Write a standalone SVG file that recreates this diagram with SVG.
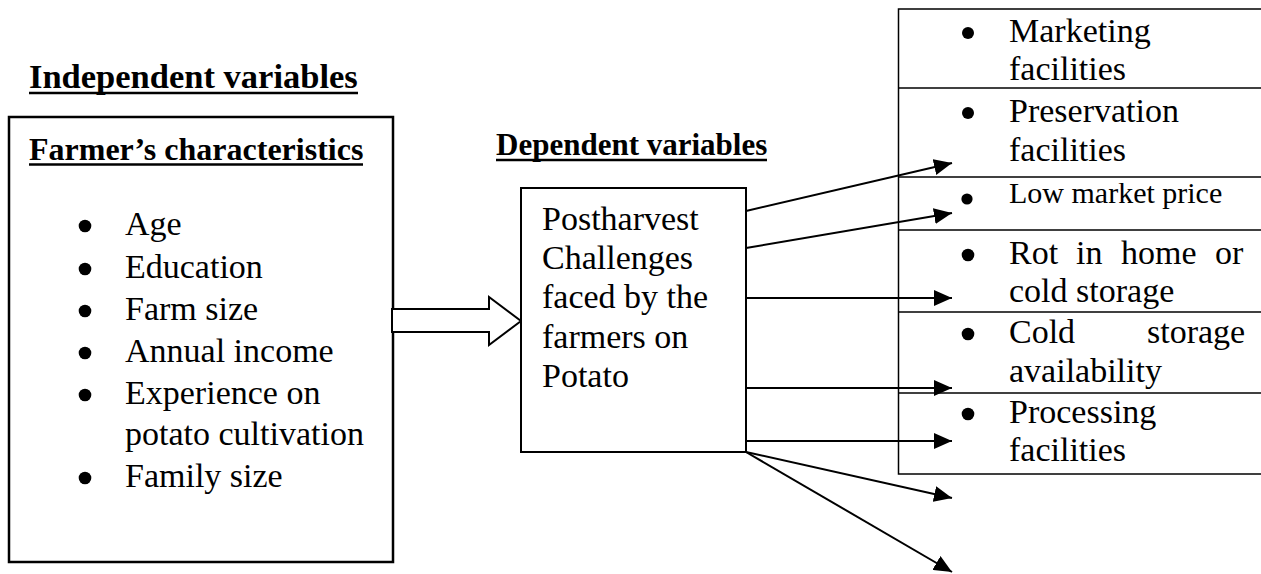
<svg xmlns="http://www.w3.org/2000/svg" width="1261" height="574" viewBox="0 0 1261 574">
<style>
text{font-family:"Liberation Serif","Times New Roman",Times,serif;fill:#000}
.h{font-weight:bold}
.t{font-size:34px}
.box{fill:#fff;stroke:#000}
.ul{stroke:#000;stroke-width:2.5}
.cell{fill:none;stroke:#000;stroke-width:1.5}
.conn line{stroke:#000;stroke-width:2;marker-end:url(#ah)}
</style>
<defs>
<marker id="ah" markerUnits="userSpaceOnUse" markerWidth="18" markerHeight="16" refX="18" refY="8" orient="auto">
<path d="M0,0 L18,8 L0,16 Z" fill="#000"/>
</marker>
</defs>
<rect width="1261" height="574" fill="#fff"/>

<g id="independent-title">
<text class="h" x="29" y="88" font-size="34.5">Independent variables</text>
<line class="ul" x1="29" y1="93" x2="358" y2="93"/>
</g>

<g id="farmer-characteristics">
<rect class="box" x="9" y="117" width="384" height="445" stroke-width="2.5"/>
<text class="h" x="29" y="160" font-size="32">Farmer’s characteristics</text>
<line class="ul" x1="29" y1="164.5" x2="363" y2="164.5"/>
<g>
<circle cx="85" cy="226" r="6.3"/><text class="t" x="125" y="235">Age</text>
<circle cx="85" cy="269" r="6.3"/><text class="t" x="125" y="278">Education</text>
<circle cx="85" cy="311" r="6.3"/><text class="t" x="125" y="320">Farm size</text>
<circle cx="85" cy="353" r="6.3"/><text class="t" x="125" y="362">Annual income</text>
<circle cx="85" cy="395" r="6.3"/><text class="t" x="125" y="404">Experience on</text>
<text class="t" x="125" y="445">potato cultivation</text>
<circle cx="85" cy="478" r="6.3"/><text class="t" x="125" y="487">Family size</text>
</g>
</g>

<g id="block-arrow">
<polygon points="392,309 489,309 489,297 521,321 489,345 489,332 392,332" fill="#fff" stroke="#000" stroke-width="2"/>
</g>

<g id="dependent-title">
<text class="h" x="496" y="155" font-size="31">Dependent variables</text>
<line class="ul" x1="496" y1="160" x2="767" y2="160"/>
</g>

<g id="postharvest-challenges">
<rect class="box" x="521" y="188" width="225" height="264" stroke-width="2"/>
<text class="t" x="542" y="230">Postharvest</text>
<text class="t" x="542" y="269">Challenges</text>
<text class="t" x="542" y="308">faced by the</text>
<text class="t" x="542" y="348">farmers on</text>
<text class="t" x="542" y="387">Potato</text>
</g>

<g id="challenge-table">
<rect class="cell" x="898.5" y="9" width="400" height="465"/>
<line class="cell" x1="898.5" y1="88" x2="1261" y2="88"/>
<line class="cell" x1="898.5" y1="177" x2="1261" y2="177"/>
<line class="cell" x1="898.5" y1="230" x2="1261" y2="230"/>
<line class="cell" x1="898.5" y1="312" x2="1261" y2="312"/>
<line class="cell" x1="898.5" y1="393" x2="1261" y2="393"/>
</g>

<g id="marketing-facilities">
<circle cx="968" cy="33" r="6"/>
<text class="t" x="1009" y="42">Marketing</text>
<text class="t" x="1009" y="80">facilities</text>
</g>
<g id="preservation-facilities">
<circle cx="968" cy="113" r="6"/>
<text class="t" x="1009" y="122">Preservation</text>
<text class="t" x="1009" y="161">facilities</text>
</g>
<g id="low-market-price">
<circle cx="967" cy="199" r="5.6"/>
<text x="1009" y="203" font-size="30">Low market price</text>
</g>
<g id="rot-storage">
<circle cx="968" cy="255" r="6.3"/>
<text class="t" y="264"><tspan x="1009">Rot</tspan><tspan x="1076">in</tspan><tspan x="1121">home</tspan><tspan x="1215">or</tspan></text>
<text class="t" x="1009" y="302">cold storage</text>
</g>
<g id="cold-storage-availability">
<circle cx="968" cy="334" r="6.3"/>
<text class="t" y="343"><tspan x="1009">Cold</tspan><tspan x="1147">storage</tspan></text>
<text class="t" x="1009" y="382">availability</text>
</g>
<g id="processing-facilities">
<circle cx="968" cy="414" r="6.3"/>
<text class="t" x="1009" y="423">Processing</text>
<text class="t" x="1009" y="461">facilities</text>
</g>

<g id="connectors" class="conn">
<line x1="746" y1="211" x2="952" y2="163"/>
<line x1="746" y1="248" x2="952" y2="213"/>
<line x1="746" y1="298" x2="952" y2="298"/>
<line x1="746" y1="388" x2="952" y2="388"/>
<line x1="746" y1="441" x2="952" y2="441"/>
<line x1="746" y1="452" x2="952" y2="498"/>
<line x1="746" y1="452" x2="952" y2="572"/>
</g>
</svg>
